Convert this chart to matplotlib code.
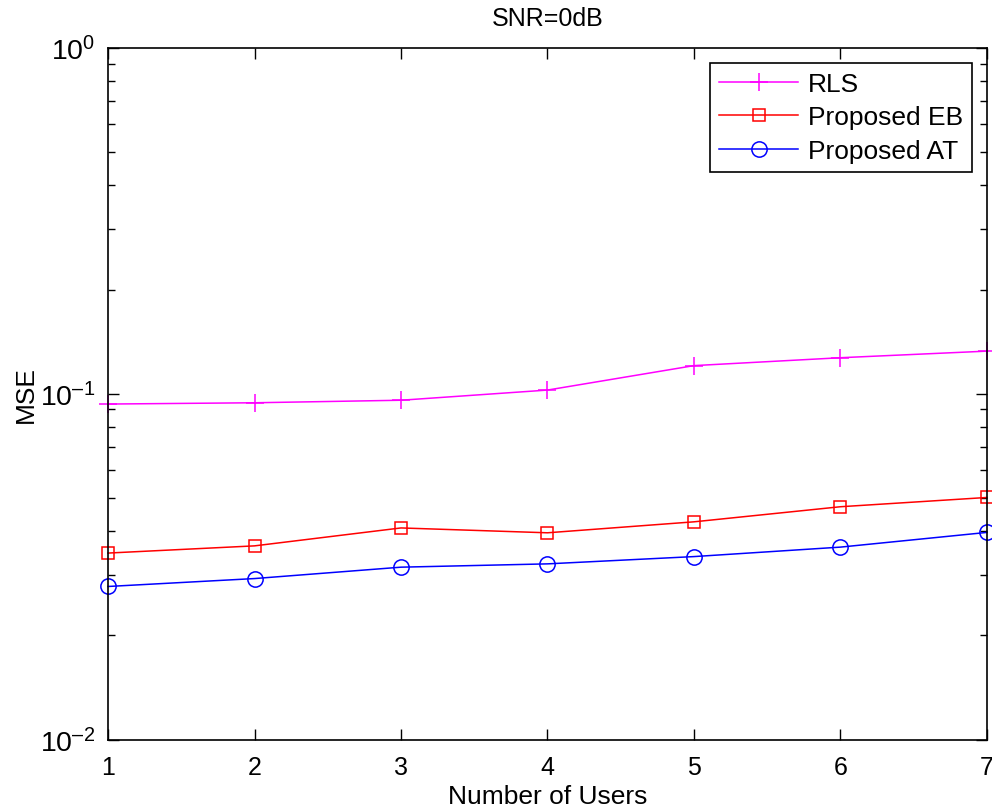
import matplotlib
matplotlib.use("Agg")
import matplotlib.pyplot as plt
from matplotlib.ticker import LogLocator, NullFormatter, FuncFormatter
import numpy as np

plt.rcParams['font.family'] = ['Liberation Sans', 'DejaVu Sans']
plt.rcParams['mathtext.fontset'] = 'custom'
plt.rcParams['mathtext.rm'] = 'Liberation Sans'
plt.rcParams['mathtext.it'] = 'Liberation Sans:italic'
plt.rcParams['mathtext.bf'] = 'Liberation Sans:bold'

users = [1, 2, 3, 4, 5, 6, 7]
mse_rls = [0.0933, 0.0941, 0.0957, 0.1024, 0.1205, 0.1270, 0.1327]
mse_eb = [0.0346, 0.0363, 0.0409, 0.0396, 0.0426, 0.0471, 0.0501]
mse_at = [0.0277, 0.0292, 0.0315, 0.0322, 0.0338, 0.0360, 0.0397]

fig = plt.figure(figsize=(9.92, 8.12), dpi=100)
ax = fig.add_axes([0.1089, 0.088, 0.886, 0.852])

ax.plot(users, mse_rls, color='#ff00ff', lw=1.1, marker='+', ms=13, mew=1.1,
        label='RLS', clip_on=False)
ax.plot(users, mse_eb, color='#ff0000', lw=1.1, marker='s', ms=9, mew=1.1,
        mfc='none', label='Proposed EB', clip_on=False)
ax.plot(users, mse_at, color='#0000ff', lw=1.1, marker='o', ms=11, mew=1.1,
        mfc='none', label='Proposed AT', clip_on=False)


def power_label(v, pos):
    e = int(round(np.log10(v)))
    s = str(e).replace('-', '\u2013')
    return '$\\mathregular{10^{%s}}$' % s


ax.set_yscale('log')
ax.set_xlim(1, 7)
ax.set_ylim(1e-2, 1e0)
ax.set_xticks(users)
ax.yaxis.set_major_locator(LogLocator(base=10, numticks=5))
ax.yaxis.set_major_formatter(FuncFormatter(power_label))
ax.yaxis.set_minor_locator(LogLocator(base=10, subs=range(2, 10), numticks=20))
ax.yaxis.set_minor_formatter(NullFormatter())

ax.tick_params(which='both', direction='in', top=True, right=True, labelsize=18)
ax.tick_params(axis='y', labelsize=20.5, pad=9)
ax.tick_params(which='major', length=8, width=1)
ax.tick_params(which='minor', length=5, width=1)
ax.tick_params(axis='x', pad=11)
for s in ax.spines.values():
    s.set_linewidth(1.2)

ax.set_xlabel('Number of Users', fontsize=19, labelpad=4)
ax.set_ylabel('MSE', fontsize=19, labelpad=2)
ax.set_title('SNR=0dB', fontsize=18, pad=16)

leg = ax.legend(loc='upper right', fontsize=19, fancybox=False, framealpha=1,
                edgecolor='black', borderpad=0.35, handlelength=3.0,
                handletextpad=0.35, labelspacing=0.36, borderaxespad=0.57)
leg.get_frame().set_linewidth(1.2)

fig.savefig('out.png', dpi=100)
